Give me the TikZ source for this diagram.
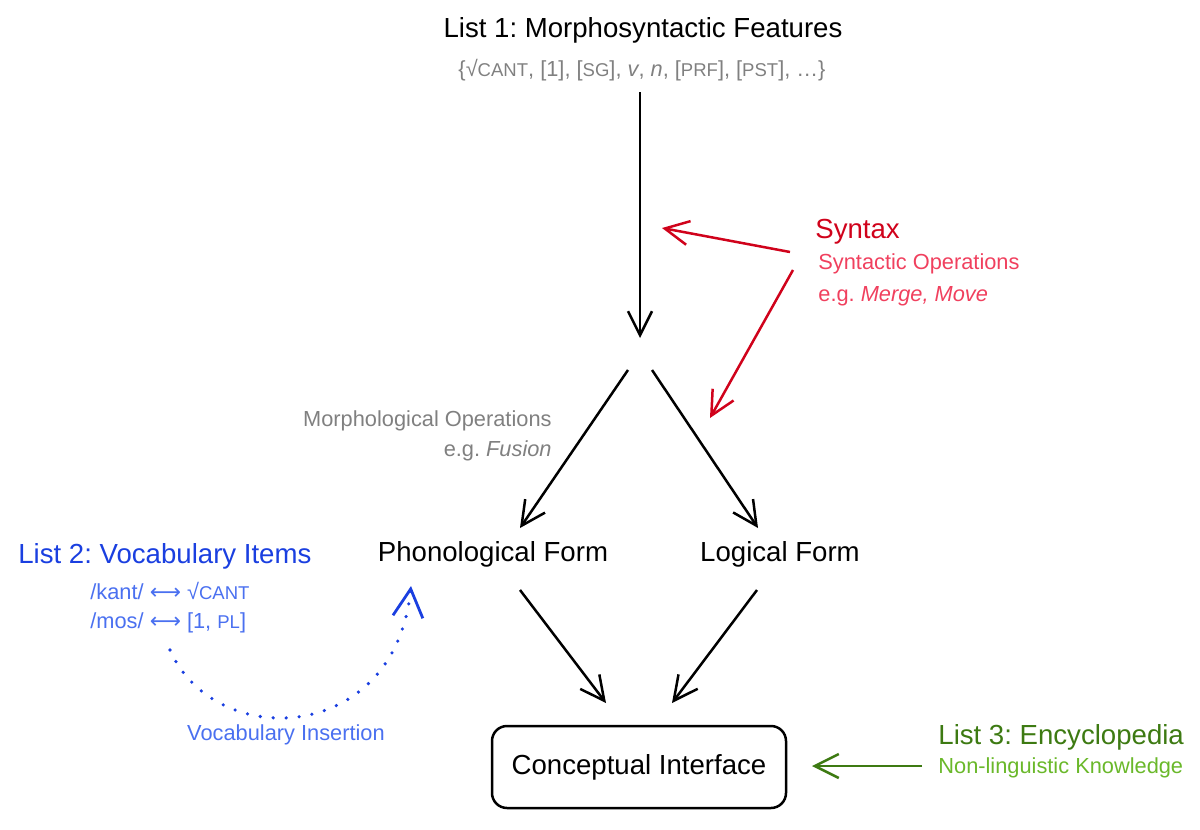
\documentclass[tikz,border=0pt]{standalone}
\usepackage{fontspec}
\usepackage{graphicx}
\setmainfont{Liberation Sans}
\newfontfamily\symfont{DejaVu Sans}
\usetikzlibrary{arrows.meta}
\frenchspacing
\newcommand{\mysc}[1]{\scalebox{0.85}{#1}}
\newcommand{\lrarr}{{\symfont ⟷}}
\definecolor{synred}{HTML}{D0021B}
\definecolor{synlight}{HTML}{F0405E}
\definecolor{voc}{HTML}{1A3FE0}
\definecolor{voclight}{HTML}{4A70F0}
\definecolor{encgreen}{HTML}{3D7A12}
\definecolor{enclight}{HTML}{6AB82A}
\definecolor{subgray}{HTML}{808080}
\begin{document}
\begin{tikzpicture}[x=0.5pt,y=-0.5pt,
  maintxt/.style={inner sep=0pt,font=\fontsize{13.8pt}{16pt}\selectfont},
  subtxt/.style={inner sep=0pt,font=\fontsize{10.9pt}{13pt}\selectfont},
  flow/.style={line width=1.25pt,-{Straight Barb[length=12pt,width=12pt,line width=1.25pt]}},
  redflow/.style={flow,draw=synred},
  greenflow/.style={flow,draw=encgreen},
  ibox/.style={draw,line width=1.25pt,rounded corners=7.5pt,minimum width=147pt,minimum height=41pt,inner sep=0pt,font=\fontsize{13.8pt}{16pt}\selectfont}]
\useasboundingbox (0,0) rectangle (1200,830);
% texts
\node[maintxt] (l1) at (643,30) {List 1: Morphosyntactic Features};
\node[subtxt,text=subgray] (l1s) at (642,70) {\{√\mysc{CANT}, [1], [\mysc{SG}], \textit{v}, \textit{n}, [\mysc{PRF}], [\mysc{PST}], …\}};
\node[maintxt,text=synred,anchor=west] (syn) at (815,232) {Syntax};
\node[subtxt,text=synlight,anchor=west] (syn1) at (818,264) {Syntactic Operations};
\node[subtxt,text=synlight,anchor=west] (syn2) at (818,296) {e.g. \textit{Merge, Move}};
\node[subtxt,text=subgray,anchor=east] (mo1) at (552,421) {Morphological Operations};
\node[subtxt,text=subgray,anchor=east] (mo2) at (552,451) {e.g. \textit{Fusion}};
\node[maintxt] (pf) at (493,554) {Phonological Form};
\node[maintxt] (lf) at (780,554) {Logical Form};
\node[ibox] (ci) at (639,767) {Conceptual Interface};
\node[maintxt,text=voc,anchor=west] (l2) at (18,556) {List 2: Vocabulary Items};
\node[subtxt,text=voclight,anchor=west] (v1) at (90,591) {/kant/ \lrarr{} √\mysc{CANT}};
\node[subtxt,text=voclight,anchor=west] (v2) at (90,623) {/mos/ \lrarr{} [1, \mysc{PL}]};
\node[subtxt,text=voclight] (vi) at (286,735) {Vocabulary Insertion};
\node[maintxt,text=encgreen,anchor=west] (l3) at (938,737) {List 3: Encyclopedia};
\node[subtxt,text=enclight,anchor=west] (l3s) at (938,768) {Non-linguistic Knowledge};
% connector end points
\coordinate (a1s) at (640,92);
\coordinate (a1e) at (640,338);
\coordinate (jl) at (628,370);
\coordinate (jr) at (652,370);
\coordinate (pfin) at (520,528);
\coordinate (lfin) at (758,528);
\coordinate (pfout) at (520,590);
\coordinate (lfout) at (757,590);
\coordinate (cil) at (606,703);
\coordinate (cir) at (672,703);
\coordinate (r1s) at (790,252);
\coordinate (r1e) at (662,228);
\coordinate (r2s) at (793,270);
\coordinate (r2e) at (710,418);
\coordinate (gs) at (922,766);
\coordinate (ge) at (812,766);
\coordinate (ds) at (170,650);
\coordinate (de) at (411,586);
% connectors
\draw[flow] (a1s) -- (a1e);
\draw[flow] (jl) -- (pfin);
\draw[flow] (jr) -- (lfin);
\draw[flow] (pfout) -- (cil);
\draw[flow] (lfout) -- (cir);
\draw[redflow] (r1s) -- (r1e);
\draw[redflow] (r2s) -- (r2e);
\draw[greenflow] (gs) -- (ge);
\draw[draw=voc,line width=1.8pt,line cap=round,dash pattern=on 0pt off 6.5pt,
  -{Straight Barb[length=14pt,width=15pt,line width=1.4pt]}]
  (ds) .. controls (215,752) and (395,745) .. (de);
\end{tikzpicture}
\end{document}
